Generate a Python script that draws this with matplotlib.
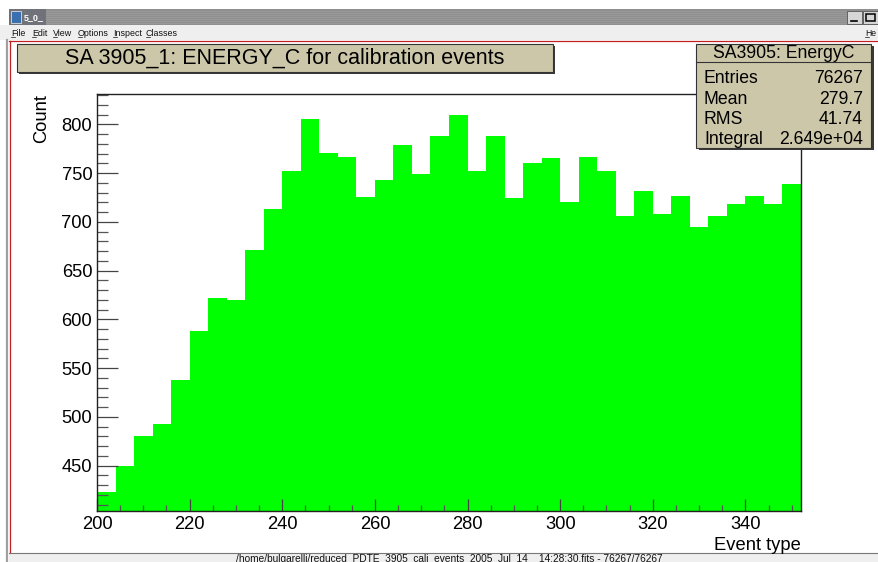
import matplotlib
matplotlib.use("Agg")
import matplotlib.pyplot as plt
from matplotlib.patches import Rectangle
from matplotlib.lines import Line2D
from matplotlib.ticker import FixedLocator, MultipleLocator
import numpy as np

# ---- histogram data -------------------------------------------------------
bin_low = 200
bin_width = 4
counts = [423, 450, 480, 493, 538, 588, 622, 620, 671, 713,
          752, 805, 771, 766, 725, 743, 779, 749, 788, 810,
          752, 788, 724, 760, 765, 720, 767, 752, 706, 732,
          708, 726, 695, 706, 718, 726, 718, 739]
x_major = [200, 220, 240, 260, 280, 300, 320, 340]
y_major = [450, 500, 550, 600, 650, 700, 750, 800]
y_range = (403.7, 830.8)

title = "SA 3905_1: ENERGY_C for calibration events"
x_label = "Event type"
y_label = "Count"
stats_title = "SA3905: EnergyC"
stats_names = ["Entries", "Mean", "RMS", "Integral"]
stats_values = ["76267", "279.7", "41.74", "2.649e+04"]
window_name = "5_0_"
menu_items = ["File", "Edit", "View", "Options", "Inspect", "Classes"]
menu_x = [11, 32, 53, 78, 113, 146]
status_text = ("/home/bulgarelli/reduced_PDTE_3905_cali_events_2005_Jul_14__"
               "14:28:30.fits - 76267/76267")

FONT = "Liberation Sans"
KHAKI = "#cdc7aa"
W, H = 879, 562

fig = plt.figure(figsize=(W / 100, H / 100), dpi=100, facecolor="white")


def fx(x):
    return x / W


def fy(y):
    return 1 - y / H


def box(x0, y0, x1, y1, **kw):
    fig.patches.append(Rectangle((fx(x0), fy(y1)), (x1 - x0) / W, (y1 - y0) / H,
                                 transform=fig.transFigure, **kw))


def hline(x0, x1, y, **kw):
    fig.add_artist(Line2D([fx(x0), fx(x1)], [fy(y), fy(y)],
                          transform=fig.transFigure, **kw))


def vline(x, y0, y1, **kw):
    fig.add_artist(Line2D([fx(x), fx(x)], [fy(y0), fy(y1)],
                          transform=fig.transFigure, **kw))


def text(x, y, s, **kw):
    kw.setdefault("family", FONT)
    fig.text(fx(x), fy(y), s, transform=fig.transFigure, **kw)


# ---- window chrome --------------------------------------------------------
box(9, 9, 879, 25, facecolor="#8f8f8f", edgecolor="none", zorder=1)
for yy in range(11, 25, 2):
    hline(46, 846, yy, color="#9c9c9c", lw=0.6, zorder=1.1)
box(9, 9, 46, 25, facecolor="#6f7278", edgecolor="none", zorder=1.2)
box(11, 11, 21, 23, facecolor="#3a6fb0", edgecolor="#dddddd", lw=0.6, zorder=1.3)
text(24, 17.5, window_name, color="white", fontsize=6.5, weight="bold",
     va="center", ha="left", zorder=2)
box(847, 11, 862, 24, facecolor="#d6d6d6", edgecolor="#555555", lw=0.6, zorder=1.3)
box(863, 11, 878, 24, facecolor="#d6d6d6", edgecolor="#555555", lw=0.6, zorder=1.3)
hline(851, 857, 21, color="black", lw=1.2, zorder=2)
box(866, 14, 875, 21, facecolor="none", edgecolor="black", lw=1.1, zorder=2)

box(0, 25, 879, 40, facecolor="#efefef", edgecolor="none", zorder=1)
for name, mx in zip(menu_items, menu_x):
    text(mx, 33, name, fontsize=6.4, va="center", ha="left", color="#111111", zorder=2)
    hline(mx, mx + 4, 37.3, color="#111111", lw=0.5, zorder=2)
text(865, 33, "He", fontsize=6.2, va="center", ha="left", color="#111111", zorder=2)
hline(865, 869, 37.3, color="#111111", lw=0.5, zorder=2)

# canvas frame
vline(7.5, 40, 562, color="#a0a0a0", lw=1.6, zorder=3)
vline(9.5, 41, 552, color="#c02020", lw=0.9, zorder=3)
hline(9, 879, 41, color="#c02020", lw=0.9, zorder=3)

# status bar
box(9, 553, 879, 562, facecolor="#efefef", edgecolor="none", zorder=1)
hline(9, 879, 552.8, color="#777777", lw=0.8, zorder=2)
text(449, 561.5, status_text, fontsize=7.3, ha="center", va="baseline",
     color="#111111", zorder=2)

# ---- histogram axes -------------------------------------------------------
left, right, top, bottom = 97, 801, 94.3, 510.7
ax = fig.add_axes([fx(left), fy(bottom), (right - left) / W, (bottom - top) / H])
edges = bin_low + bin_width * np.arange(len(counts) + 1)
ax.stairs(counts, edges, fill=True, color="#00ff00", baseline=0)
ax.set_xlim(edges[0], edges[-1])
ax.set_ylim(*y_range)

for s in ax.spines.values():
    s.set_color("#222222")
    s.set_linewidth(1.0)

ax.xaxis.set_major_locator(FixedLocator(x_major))
ax.xaxis.set_minor_locator(MultipleLocator(5))
ax.yaxis.set_major_locator(FixedLocator(y_major))
ax.yaxis.set_minor_locator(MultipleLocator(10))
ax.tick_params(axis="y", which="major", direction="in", length=15, width=0.9,
               color="#444444", pad=3.5, labelsize=13.2)
ax.tick_params(axis="y", which="minor", direction="in", length=8.2, width=0.9,
               color="#555555")
ax.tick_params(axis="x", which="major", direction="in", length=8.5, width=0.9,
               color="#444444", pad=4, labelsize=13.2)
ax.tick_params(axis="x", which="minor", direction="in", length=4.3, width=0.9,
               color="#555555")
for lab in ax.get_xticklabels() + ax.get_yticklabels():
    lab.set_family(FONT)

text(42, 94.5, y_label, fontsize=13.2, rotation=90, ha="center", va="top")
text(801, 550, x_label, fontsize=13.2, ha="right", va="baseline")

# ---- title box ------------------------------------------------------------
box(19, 46, 555, 74, facecolor="#3a3a3a", edgecolor="none", zorder=4)
box(17, 44, 553, 72, facecolor=KHAKI, edgecolor="#333333", lw=0.8, zorder=5)
text(285, 58.5, title, fontsize=15.5, ha="center", va="center", zorder=6)

# ---- statistics box -------------------------------------------------------
box(699, 46, 874, 150, facecolor="#3a3a3a", edgecolor="none", zorder=4)
box(696, 44, 871.5, 147.5, facecolor=KHAKI, edgecolor="#333333", lw=0.8, zorder=5)
hline(696, 871.5, 62, color="#333333", lw=0.8, zorder=6)
text(784, 53, stats_title, fontsize=12.7, ha="center", va="center", zorder=6)
row_y = [78.5, 99, 119.5, 139]
for name, val, ry in zip(stats_names, stats_values, row_y):
    text(704, ry, name, fontsize=12.7, ha="left", va="center", zorder=6)
    text(863, ry, val, fontsize=12.7, ha="right", va="center", zorder=6)

fig.savefig("out.png", dpi=100, facecolor="white")
